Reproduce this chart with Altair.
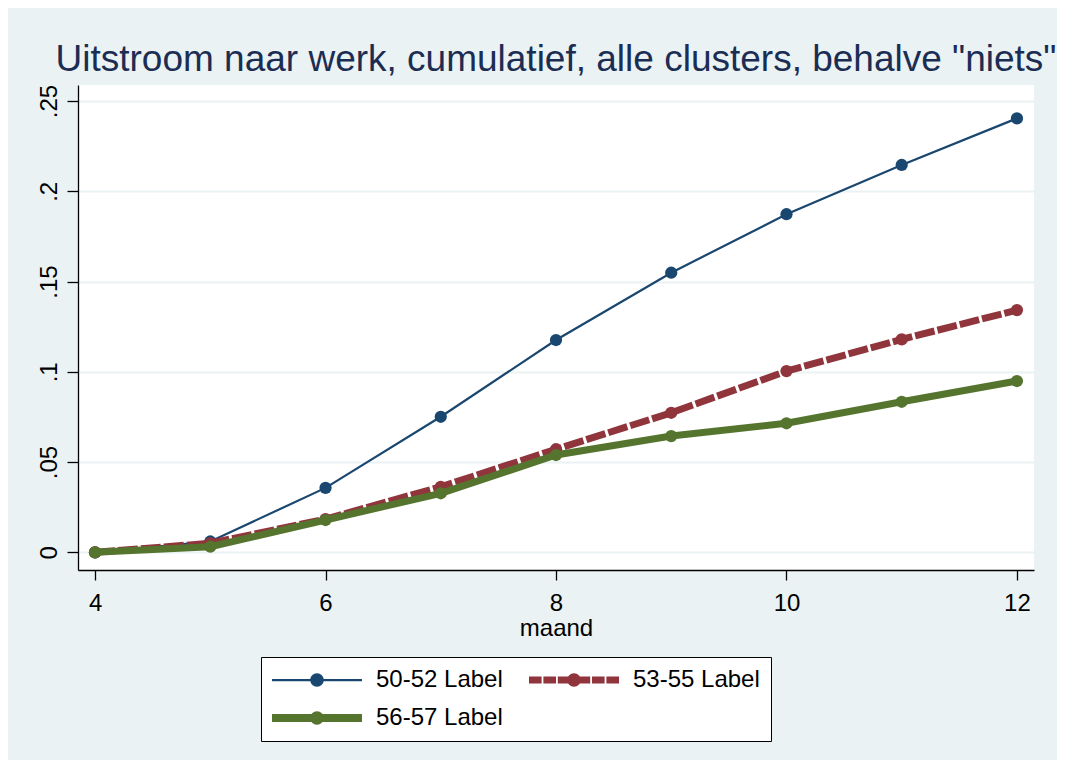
import altair as alt
import pandas as pd

# ---- data ----
maand = [4, 5, 6, 7, 8, 9, 10, 11, 12]
series_names = ["50-52 Label", "53-55 Label", "56-57 Label"]
v_50_52 = [0.000, 0.0060, 0.0357, 0.0751, 0.1176, 0.1549, 0.1873, 0.2146, 0.2404]
v_53_55 = [0.000, 0.0050, 0.0184, 0.0363, 0.0571, 0.0773, 0.1004, 0.1180, 0.1342]
v_56_57 = [0.000, 0.0031, 0.0179, 0.0327, 0.0539, 0.0644, 0.0715, 0.0834, 0.0949]
x_ticks = [4, 6, 8, 10, 12]
y_ticks = [0, 0.05, 0.1, 0.15, 0.2, 0.25]
title_text = 'Uitstroom naar werk, cumulatief, alle clusters, behalve "niets"'

colors = ["#1A476F", "#90353B", "#55752F"]
FONT = "Liberation Sans"

rows = []
for name, vals in zip(series_names, [v_50_52, v_53_55, v_56_57]):
    for m, v in zip(maand, vals):
        rows.append({"maand": m, "waarde": v, "series": name})
df = pd.DataFrame(rows)

# ---- styles ----
line_styles = {
    "50-52 Label": dict(strokeWidth=2.2),
    "53-55 Label": dict(strokeWidth=7, strokeDash=[20, 3]),
    "56-57 Label": dict(strokeWidth=7),
}
circle = "M-0.15,0A0.15,0.15 0 1,1 0.15,0A0.15,0.15 0 1,1 -0.15,0Z"
legend_paths = [
    "M-1,-0.025H1V0.025H-1Z" + circle,
    "M-1,-0.078H-0.72V0.078H-1Z"
    "M-0.68,-0.078H-0.40V0.078H-0.68Z"
    "M-0.36,-0.078H-0.08V0.078H-0.36Z"
    "M0.08,-0.078H0.36V0.078H0.08Z"
    "M0.40,-0.078H0.68V0.078H0.40Z"
    "M0.72,-0.078H1V0.078H0.72Z" + circle,
    "M-1,-0.089H1V0.089H-1Z" + circle,
]

x_scale = alt.Scale(domain=[3.852, 12.148], nice=False, zero=False)
y_scale = alt.Scale(domain=[-0.0098, 0.2589], nice=False, zero=False)

x_axis = alt.Axis(values=x_ticks, title="maand", grid=False, tickSize=10,
                  labelPadding=11, titlePadding=1, format="d", labelFlush=False)
y_axis = alt.Axis(values=y_ticks, title=None, grid=True, gridColor="#EAF2F3",
                  gridWidth=2, tickSize=11, labelAngle=270, labelAlign="center",
                  labelBaseline="alphabetic", labelPadding=11, labelFlush=False,
                  labelExpr="datum.value == 0 ? '0' : substring(format(datum.value, '.2~f'), 1)")

layers = []
for name, col in zip(series_names, colors):
    base = alt.Chart(df).transform_filter(alt.datum.series == name).encode(
        x=alt.X("maand:Q", scale=x_scale, axis=x_axis),
        y=alt.Y("waarde:Q", scale=y_scale, axis=y_axis),
    )
    layers.append(base.mark_line(color=col, **line_styles[name]))
    layers.append(base.mark_circle(color=col, size=150, opacity=1))

leg = alt.Legend(
    title=None, orient="none", legendX=183, legendY=572,
    direction="horizontal", columns=2, symbolSize=8100, symbolStrokeWidth=0,
    clipHeight=24,
    labelFontSize=24, labelFont=FONT, labelColor="black", labelOffset=14,
    columnPadding=26, rowPadding=14, padding=11, fillColor="white",
    strokeColor="black", labelLimit=300,
)

legend_layer = alt.Chart(df).transform_filter("datum.maand < 0").mark_point(
    filled=True, opacity=1, size=8100, strokeWidth=0
).encode(
    x=alt.X("maand:Q", scale=x_scale, axis=x_axis),
    y=alt.Y("waarde:Q", scale=y_scale, axis=y_axis),
    color=alt.Color("series:N", scale=alt.Scale(domain=series_names, range=colors), legend=leg),
    shape=alt.Shape("series:N", scale=alt.Scale(domain=series_names, range=legend_paths), legend=leg),
)

chart = alt.layer(*layers, legend_layer).properties(
    width=956,
    height=485,
    title=alt.TitleParams(text=title_text, fontSize=37, font=FONT, fontWeight="normal",
                          color="#1C2D54", anchor="middle", frame="group",
                          baseline="alphabetic", offset=13, dy=37),
    background="#EAF2F3",
    padding={"left": 70, "top": 77, "right": 23, "bottom": 190},
    autosize=alt.AutoSizeParams(type="none"),
).configure_view(
    fill="white", strokeWidth=0
).configure_axis(
    domainColor="black", domainWidth=1.3, tickColor="black", tickWidth=1.3,
    labelFont=FONT, labelFontSize=24, labelColor="black",
    titleFont=FONT, titleFontSize=24, titleFontWeight="normal", titleColor="black",
)

chart.save("out.html", embed_options={"renderer": "svg", "actions": False})
